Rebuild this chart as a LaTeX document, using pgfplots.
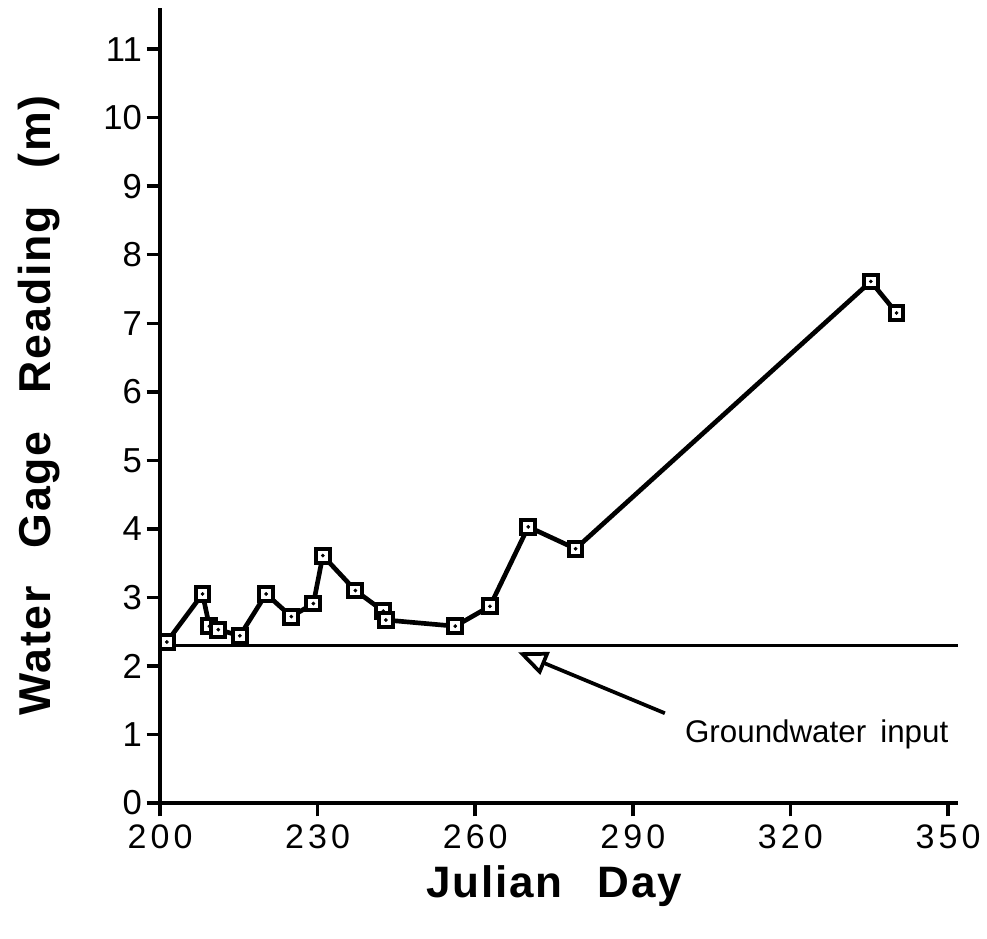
\documentclass[border=0pt]{standalone}
\usepackage{fontspec}
\setmainfont{Liberation Sans}
\newfontfamily\xtfont[LetterSpace=12]{Liberation Sans}
\newfontfamily\lblfont[LetterSpace=4]{Liberation Sans}
\usepackage{pgfplots}
\pgfplotsset{compat=1.18}
\usetikzlibrary{arrows.meta}

\pgfplotstableread{
x y
201.3 2.35
208.1 3.05
209.4 2.58
211.1 2.53
215.2 2.44
220.2 3.05
225.0 2.72
229.2 2.91
231.0 3.61
237.2 3.10
242.5 2.80
243.0 2.67
256.2 2.58
262.8 2.87
270.1 4.03
279.1 3.71
335.3 7.61
340.2 7.15
}\gagedata

\begin{document}
\begin{tikzpicture}
\begin{axis}[
  scale only axis, width=598.5pt, height=596.25pt,
  xmin=200, xmax=351.9, ymin=0, ymax=11.6,
  axis lines=left, axis line style={-, line width=3pt},
  xtick={200,230,...,350}, ytick={0,1,...,11},
  tick align=outside, major tick length=10pt,
  every tick/.style={black, line width=2.6pt},
  /pgf/number format/assume math mode=true,
  xticklabel style={font=\xtfont\fontsize{25.5}{30}\selectfont, yshift=-3pt},
  yticklabel style={font=\fontsize{26}{30}\selectfont},
  xlabel={Julian\hspace{0.8em}Day},
  ylabel={Water\hspace{0.85em}Gage\hspace{0.85em}Reading\hspace{0.85em}(m)},
  xlabel style={font=\lblfont\bfseries\fontsize{33}{38}\selectfont,
    at={([xshift=-3.75pt,yshift=-70.5pt]axis description cs:0.5,0)}, anchor=base},
  ylabel style={font=\lblfont\bfseries\fontsize{33.5}{38}\selectfont,
    at={([xshift=-91pt]axis description cs:0,0.5)}, anchor=center},
  clip=false,
]
\coordinate (bl) at (rel axis cs:0,0);
\coordinate (tr) at (rel axis cs:1,1);
\addplot[black, line width=2.6pt] coordinates {(200,2.3) (351.9,2.3)};
\addplot[black, line width=3.5pt, mark=square*,
  mark options={fill=white, draw=black, line width=3pt, mark size=5.2pt}]
  table[x=x, y=y] {\gagedata};
\addplot[only marks, mark=*, mark size=1.2pt, black] table[x=x, y=y] {\gagedata};
\draw[line width=2.8pt, -{Triangle[open, length=22pt, width=18pt, line width=2.8pt]}]
  (axis cs:296.1,1.31) -- (axis cs:268.15,2.2);
\node[anchor=base west, font=\fontsize{23.5}{28}\selectfont, inner sep=0pt]
  at (axis cs:299.9,0.89) {Groundwater\hspace{0.45em}input};
\end{axis}
\path ([shift={(-120pt,-101.25pt)}]bl) rectangle ([shift={(21.75pt,6pt)}]tr);
\end{tikzpicture}
\end{document}
